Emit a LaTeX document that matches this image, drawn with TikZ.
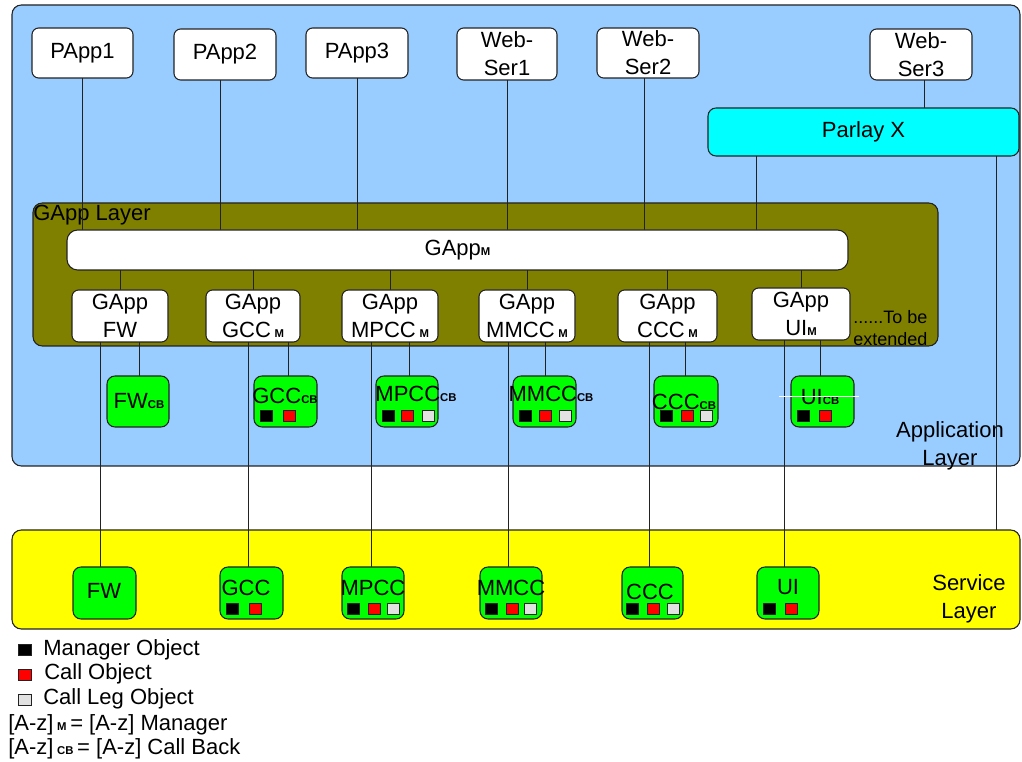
\documentclass[tikz,border=0pt]{standalone}
\usepackage{fontspec}
\setmainfont{Liberation Sans}

\definecolor{applayer}{HTML}{99CCFF}
\definecolor{gapplayer}{HTML}{808000}
\definecolor{svclayer}{HTML}{FFFF00}
\definecolor{parlaycol}{HTML}{00FFFF}
\definecolor{cbgreen}{HTML}{00FF00}
\definecolor{legcol}{HTML}{E2E2E2}
\definecolor{sqred}{HTML}{FF0000}
\definecolor{edge}{HTML}{222222}

\newcommand\mainfs{\fontsize{16.5}{21}\selectfont}
\newcommand\smallsub[1]{{\fontsize{8.5}{8.5}\selectfont\bfseries #1}}
% box node given by its corners: style, name, x1, y1, x2, y2, text
\newcommand\mkbox[7]{\node[#1, minimum width={(#5-#3)*0.75pt}, minimum height={(#6-#4)*0.75pt}] (#2) at ({(#3+#5)/2},{(#4+#6)/2}) {#7};}
% object marker square: colour, left, top
\newcommand\putsq[3]{\draw[objsq, fill=#1] (#2,#3) rectangle ++(12,11);}

\pgfdeclarelayer{back}
\pgfdeclarelayer{wires}
\pgfsetlayers{back,wires,main}

\tikzset{
  frame/.style={draw=edge, line width=0.8pt, inner sep=0pt, outer sep=0pt},
  layerbox/.style={frame, rounded corners=7pt},
  wbox/.style={frame, fill=white, rounded corners=5pt, align=center, font=\mainfs},
  gbox/.style={frame, fill=cbgreen, rounded corners=6pt},
  txt/.style={inner sep=0pt, font=\mainfs},
  wire/.style={draw=edge, line width=0.7pt},
  objsq/.style={draw=edge, line width=0.5pt},
}

\begin{document}
\begin{tikzpicture}[x=0.75pt, y=-0.75pt]
\useasboundingbox (0,0) rectangle (1022,762);

% ---- layers ----
\begin{pgfonlayer}{back}
  \mkbox{layerbox, fill=applayer}{app}{12}{5}{1020}{466}{}
  \mkbox{layerbox, fill=gapplayer}{gl}{33}{203}{938}{346}{}
  \mkbox{layerbox, fill=svclayer}{svc}{12}{530}{1020}{629}{}
  \node[txt, anchor=base west] (glname) at (33,221) {GApp Layer};
  \node[txt, align=center] (appname) at (950,446) {Application\\Layer};
  \node[txt, align=center] (svcname) at (969,599) {Service\\Layer};
  \node[inner sep=0pt, align=left, anchor=west, font=\fontsize{13.5}{16}\selectfont] (more) at (853,328) {......To be\\extended};
\end{pgfonlayer}

% ---- applications ----
\mkbox{wbox}{papp1}{32}{28}{133}{78}{PApp1}
\mkbox{wbox}{papp2}{174}{29}{276}{80}{PApp2}
\mkbox{wbox}{papp3}{306}{28}{408}{78}{PApp3}
\mkbox{wbox}{ws1}{457}{28}{557}{80}{Web-\\Ser1}
\mkbox{wbox}{ws2}{597}{28}{699}{78}{Web-\\Ser2}
\mkbox{wbox}{ws3}{870}{29}{972}{80}{Web-\\Ser3}
\mkbox{wbox, fill=parlaycol, rounded corners=6pt}{parlay}{708}{108}{1019}{156}{Parlay X}

% ---- GApp layer ----
\mkbox{wbox, rounded corners=8pt}{gappm}{67}{230}{848}{270}{GApp\smallsub{M}}
\mkbox{wbox}{gfw}{72}{290}{168}{342}{GApp\\FW}
\mkbox{wbox}{ggcc}{206}{290}{300}{342}{GApp\\GCC\,\smallsub{M}}
\mkbox{wbox}{gmpcc}{342}{290}{438}{342}{GApp\\MPCC\,\smallsub{M}}
\mkbox{wbox}{gmmcc}{479}{290}{575}{342}{GApp\\MMCC\,\smallsub{M}}
\mkbox{wbox}{gccc}{618}{290}{717}{342}{GApp\\CCC\,\smallsub{M}}
\mkbox{wbox}{gui}{752}{288}{850}{340}{GApp\\UI\smallsub{M}}

% ---- call back objects ----
\mkbox{gbox}{fwcb}{107}{376}{169}{427}{}
\mkbox{gbox}{gcccb}{254}{376}{317}{427}{}
\mkbox{gbox}{mpcccb}{376}{376}{438}{427}{}
\mkbox{gbox}{mmcccb}{513}{376}{576}{427}{}
\mkbox{gbox}{ccccb}{654}{376}{718}{427}{}
\mkbox{gbox}{uicb}{791}{376}{854}{427}{}
\node[txt] (tfwcb) at (139,401) {FW\smallsub{CB}};
\node[txt] (tgcccb) at (285,396) {GCC\smallsub{CB}};
\node[txt] (tmpcccb) at (416,394) {MPCC\smallsub{CB}};
\node[txt] (tmmcccb) at (551,394) {MMCC\smallsub{CB}};
\node[txt] (tccccb) at (684,402) {CCC\smallsub{CB}};
\node[txt] (tuicb) at (820,397) {UI\smallsub{CB}};
\putsq{black}{260}{410}\putsq{sqred}{283}{410}
\putsq{black}{382}{410}\putsq{sqred}{401}{410}\putsq{legcol}{422}{410}
\putsq{black}{519}{410}\putsq{sqred}{539}{410}\putsq{legcol}{559}{410}
\putsq{black}{660}{410}\putsq{sqred}{681}{410}\putsq{legcol}{700}{410}
\putsq{black}{797}{410}\putsq{sqred}{819}{410}
\coordinate (uistrokeA) at (779,396);
\coordinate (uistrokeB) at (859,396);
\draw[white, line width=0.6pt] (uistrokeA) -- (uistrokeB);

% ---- service layer objects ----
\mkbox{gbox}{sfw}{73}{567}{136}{619}{}
\mkbox{gbox}{sgcc}{220}{567}{283}{619}{}
\mkbox{gbox}{smpcc}{342}{567}{404}{619}{}
\mkbox{gbox}{smmcc}{480}{567}{542}{619}{}
\mkbox{gbox}{sccc}{622}{567}{683}{619}{}
\mkbox{gbox}{sui}{757}{567}{819}{619}{}
\node[txt] (tsfw) at (104,591) {FW};
\node[txt] (tsgcc) at (246,588) {GCC};
\node[txt] (tsmpcc) at (373,588) {MPCC};
\node[txt] (tsmmcc) at (511,588) {MMCC};
\node[txt] (tsccc) at (650,592) {CCC};
\node[txt] (tsui) at (788,587) {UI};
\putsq{black}{226}{603}\putsq{sqred}{249}{603}
\putsq{black}{347}{603}\putsq{sqred}{368}{603}\putsq{legcol}{387}{603}
\putsq{black}{485}{603}\putsq{sqred}{506}{603}\putsq{legcol}{524}{603}
\putsq{black}{626}{603}\putsq{sqred}{647}{603}\putsq{legcol}{667}{603}
\putsq{black}{763}{603}\putsq{sqred}{785}{603}

% ---- connections ----
\begin{pgfonlayer}{wires}
  \draw[wire] (papp1.south) -- (papp1.south |- gappm.north);
  \draw[wire] (papp2.south -| 220,0) -- (gappm.north -| 220,0);
  \draw[wire] (papp3.south) -- (papp3.south |- gappm.north);
  \draw[wire] (ws1.south) -- (ws1.south |- gappm.north);
  \draw[wire] (ws2.south -| 644,0) -- (gappm.north -| 644,0);
  \draw[wire] (ws3.south -| 924,0) -- (parlay.north -| 924,0);
  \draw[wire] (parlay.south -| 756,0) -- (gappm.north -| 756,0);
  \draw[wire] (parlay.south -| 996,0) -- (svc.north -| 996,0);
  \foreach \g in {gfw,ggcc,gmpcc,gmmcc,gccc,gui}
    \draw[wire] (gappm.south -| \g.north) -- (\g.north);
  \draw[wire] (gfw.south -| 100,0) -- (sfw.north -| 100,0);
  \draw[wire] (gfw.south -| 139,0) -- (fwcb.north -| 139,0);
  \draw[wire] (ggcc.south -| 248,0) -- (sgcc.north -| 248,0);
  \draw[wire] (ggcc.south -| 288,0) -- (gcccb.north -| 288,0);
  \draw[wire] (gmpcc.south -| 371,0) -- (smpcc.north -| 371,0);
  \draw[wire] (gmpcc.south -| 409,0) -- (mpcccb.north -| 409,0);
  \draw[wire] (gmmcc.south -| 508,0) -- (smmcc.north -| 508,0);
  \draw[wire] (gmmcc.south -| 545,0) -- (mmcccb.north -| 545,0);
  \draw[wire] (gccc.south -| 649,0) -- (sccc.north -| 649,0);
  \draw[wire] (gccc.south -| 685,0) -- (ccccb.north -| 685,0);
  \draw[wire] (gui.south -| 784,0) -- (sui.north -| 784,0);
  \draw[wire] (gui.south -| 820,0) -- (uicb.north -| 820,0);
\end{pgfonlayer}

% ---- legend ----
\draw[objsq, fill=black] (18,644) rectangle ++(13,11);
\draw[objsq, fill=sqred] (18,669) rectangle ++(13,11);
\draw[objsq, fill=legcol] (18,694) rectangle ++(13,11);
\node[txt, anchor=base west] (lgm) at (43,656) {Manager Object};
\node[txt, anchor=base west] (lgc) at (44,680) {Call Object};
\node[txt, anchor=base west] (lgl) at (43,705) {Call Leg Object};
\node[txt, anchor=base west] (lgmgr) at (8,731) {[A-z]\,\smallsub{M}\,= [A-z] Manager};
\node[txt, anchor=base west] (lgcb) at (8,755) {[A-z]\,\smallsub{CB}\,= [A-z] Call Back};
\end{tikzpicture}
\end{document}
